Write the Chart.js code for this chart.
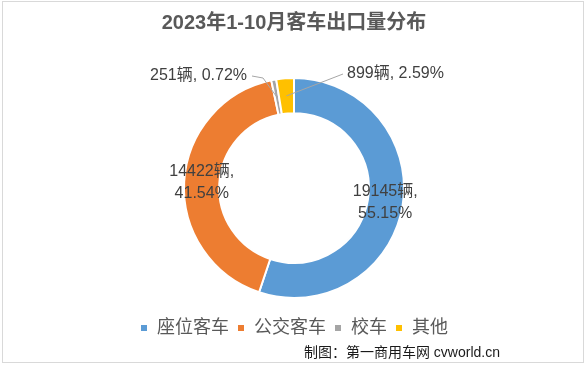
<!DOCTYPE html>
<html>
<head>
<meta charset="utf-8">
<script src="https://cdn.jsdelivr.net/npm/chart.js@4"></script>
<style>
  html, body { margin: 0; padding: 0; background: #fff; }
  #wrap { position: relative; width: 588px; height: 366px; }
  #frame { position: absolute; left: 2px; top: 1px; width: 582px; height: 362px; border: 1px solid #d9d9d9; box-sizing: border-box; }
  #source { position: absolute; right: 88px; top: 341px; font: 14px 'Liberation Sans', 'Noto Sans CJK SC', sans-serif; color: #1a1a1a; white-space: nowrap; }
</style>
</head>
<body>
<div id="wrap">
  <div id="frame"></div>
  <canvas id="chart" width="588" height="366"></canvas>
  <div id="source">制图：第一商用车网 cvworld.cn</div>
</div>
<script>
const categories = ['座位客车', '公交客车', '校车', '其他'];
const volumes = [19145, 14422, 251, 899];
const shares = ['55.15%', '41.54%', '0.72%', '2.59%'];
const colors = ['#5B9BD5', '#ED7D31', '#A5A5A5', '#FFC000'];

const FONT = "'Liberation Sans', 'Noto Sans CJK SC', sans-serif";

// data labels: big slices sit in the ring, small ones get a leader line
const labelPlugin = {
  id: 'sliceLabels',
  afterDatasetsDraw(chart) {
    const ctx = chart.ctx;
    const arcs = chart.getDatasetMeta(0).data;
    ctx.save();
    ctx.font = '16px ' + FONT;
    ctx.fillStyle = '#404040';
    ctx.textBaseline = 'middle';
    arcs.forEach((arc, i) => {
      const { x, y, startAngle, endAngle, innerRadius, outerRadius } = arc.getProps(['x', 'y', 'startAngle', 'endAngle', 'innerRadius', 'outerRadius'], true);
      const mid = (startAngle + endAngle) / 2;
      const r = (innerRadius + outerRadius) / 2;
      const px = x + Math.cos(mid) * r;
      const py = y + Math.sin(mid) * r;
      if (i < 2) {
        ctx.textAlign = 'center';
        ctx.fillText(volumes[i] + '辆,', px, py - 11);
        ctx.fillText(shares[i], px, py + 11);
      } else {
        const text = volumes[i] + '辆, ' + shares[i];
        ctx.strokeStyle = '#a6a6a6';
        ctx.lineWidth = 1;
        ctx.beginPath();
        if (i === 2) {
          const tx = x - 47, ty = y - 112;
          ctx.moveTo(tx + 5, ty);
          ctx.lineTo(tx + 16, ty + 2);
          ctx.lineTo(px, py);
          ctx.stroke();
          ctx.textAlign = 'right';
          ctx.fillText(text, tx, ty);
        } else {
          const tx = x + 53, ty = y - 114;
          ctx.moveTo(tx - 4, ty);
          ctx.lineTo(px, py);
          ctx.stroke();
          ctx.textAlign = 'left';
          ctx.fillText(text, tx, ty);
        }
      }
    });
    ctx.restore();
  }
};

new Chart(document.getElementById('chart'), {
  type: 'doughnut',
  data: {
    labels: categories,
    datasets: [{
      data: volumes,
      backgroundColor: colors,
      borderColor: '#ffffff',
      borderWidth: 2
    }]
  },
  options: {
    responsive: false,
    animation: false,
    radius: 110,
    cutout: 83,
    layout: { padding: { top: 0, bottom: 19, left: 0, right: 0 } },
    plugins: {
      title: {
        display: true,
        text: '2023年1-10月客车出口量分布',
        color: '#595959',
        font: { family: FONT, size: 20, weight: 'bold' },
        padding: { top: 11, bottom: 30 }
      },
      legend: {
        position: 'bottom',
        labels: {
          color: '#595959',
          font: { family: FONT, size: 18 },
          boxWidth: 8,
          boxHeight: 8,
          padding: 8
        }
      },
      tooltip: { enabled: false }
    }
  },
  plugins: [labelPlugin]
});
</script>
</body>
</html>
